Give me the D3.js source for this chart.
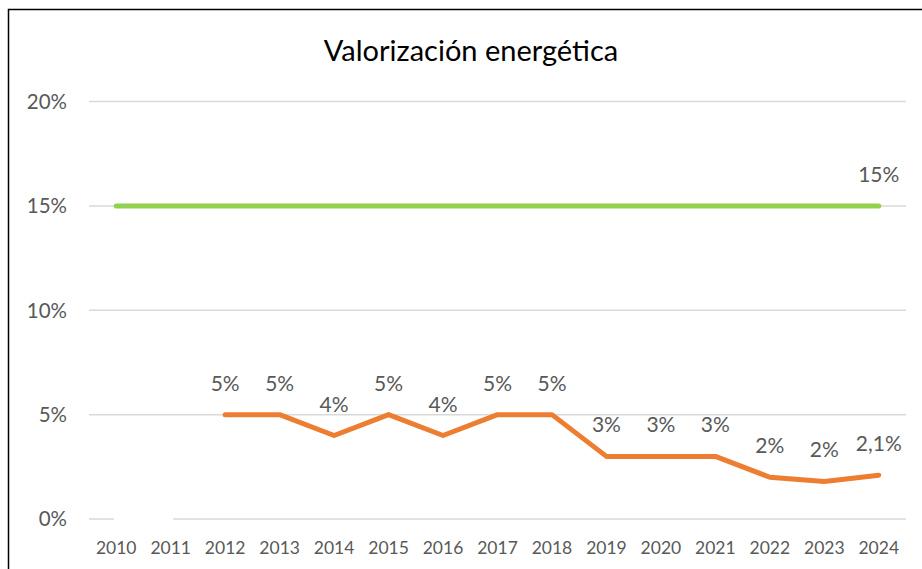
<!DOCTYPE html>
<html>
<head>
<meta charset="utf-8">
<script src="https://cdn.jsdelivr.net/npm/d3@7"></script>
<style>
  body { margin: 0; background: #fff; }
  svg { display: block; font-family: Lato, "Open Sans", sans-serif; }
</style>
</head>
<body>
<div id="chart"></div>
<script>
var years = ["2010", "2011", "2012", "2013", "2014", "2015", "2016", "2017",
  "2018", "2019", "2020", "2021", "2022", "2023", "2024"];
var yTicks = [0, 5, 10, 15, 20];

// objetivo (verde)
var targetYears = years.slice();
var targetValues = [15, 15, 15, 15, 15, 15, 15, 15, 15, 15, 15, 15, 15, 15, 15];
var targetLabels = ["", "", "", "", "", "", "", "", "", "", "", "", "", "", "15%"];

// real (naranja)
var actualYears = ["2012", "2013", "2014", "2015", "2016", "2017", "2018",
  "2019", "2020", "2021", "2022", "2023", "2024"];
var actualValues = [5, 5, 4, 5, 4, 5, 5, 3, 3, 3, 2, 1.8, 2.1];
var actualLabels = ["5%", "5%", "4%", "5%", "4%", "5%", "5%", "3%", "3%", "3%", "2%", "2%", "2,1%"];

// serie blanca 2010-2011 que tapa la linea del 0%
var blankYears = ["2010", "2011"];
var blankValues = [0, 0];

var width = 922;
var height = 569;
var textColor = "#595959";

var svg = d3
  .select("div#chart")
  .append("svg")
  .attr("width", width)
  .attr("height", height);

// marco
svg.append("rect")
  .attr("x", 8.5)
  .attr("y", 9.5)
  .attr("width", width)
  .attr("height", height)
  .attr("fill", "none")
  .attr("stroke", "#000")
  .attr("stroke-width", 1.5);

svg.append("text")
  .attr("x", 471)
  .attr("y", 61)
  .attr("text-anchor", "middle")
  .style("font-size", "29px")
  .style("fill", "#000")
  .text("Valorización energética");

var x = d3.scalePoint()
  .domain(years)
  .range([89, 906])
  .padding(0.5);

var y = d3.scaleLinear()
  .domain([0, 20])
  .range([519, 101.5]);

// rejilla
svg.append("g")
  .selectAll("line")
  .data(yTicks)
  .enter()
  .append("line")
  .attr("x1", 89)
  .attr("x2", 906)
  .attr("y1", function (d) { return y(d); })
  .attr("y2", function (d) { return y(d); })
  .attr("stroke", "#d9d9d9")
  .attr("stroke-width", 1.5);

svg.append("g")
  .selectAll("text")
  .data(yTicks)
  .enter()
  .append("text")
  .attr("x", 67)
  .attr("y", function (d) { return y(d); })
  .attr("dy", "0.36em")
  .attr("text-anchor", "end")
  .style("font-size", "20.5px")
  .style("fill", textColor)
  .text(function (d) { return d + "%"; });

svg.append("g")
  .selectAll("text")
  .data(years)
  .enter()
  .append("text")
  .attr("x", function (d) { return x(d); })
  .attr("y", 554)
  .attr("text-anchor", "middle")
  .style("font-size", "17.5px")
  .style("fill", textColor)
  .text(function (d) { return d; });

var line = d3.line()
  .x(function (d) { return x(d[0]); })
  .y(function (d) { return y(d[1]); });

var addSeries = function (keys, values, color) {
  svg.append("path")
    .datum(d3.zip(keys, values))
    .attr("d", line)
    .attr("fill", "none")
    .attr("stroke", color)
    .attr("stroke-width", 5)
    .attr("stroke-linecap", "round")
    .attr("stroke-linejoin", "round");
};

addSeries(blankYears, blankValues, "#ffffff");
addSeries(targetYears, targetValues, "#92d050");
addSeries(actualYears, actualValues, "#ed7d31");

var addLabels = function (keys, values, labels) {
  svg.append("g")
    .selectAll("text")
    .data(d3.zip(keys, values, labels))
    .enter()
    .append("text")
    .attr("x", function (d) { return x(d[0]); })
    .attr("y", function (d) { return y(d[1]) - 24; })
    .attr("text-anchor", "middle")
    .style("font-size", "21px")
    .style("fill", textColor)
    .text(function (d) { return d[2]; });
};

addLabels(targetYears, targetValues, targetLabels);
addLabels(actualYears, actualValues, actualLabels);
</script>
</body>
</html>
